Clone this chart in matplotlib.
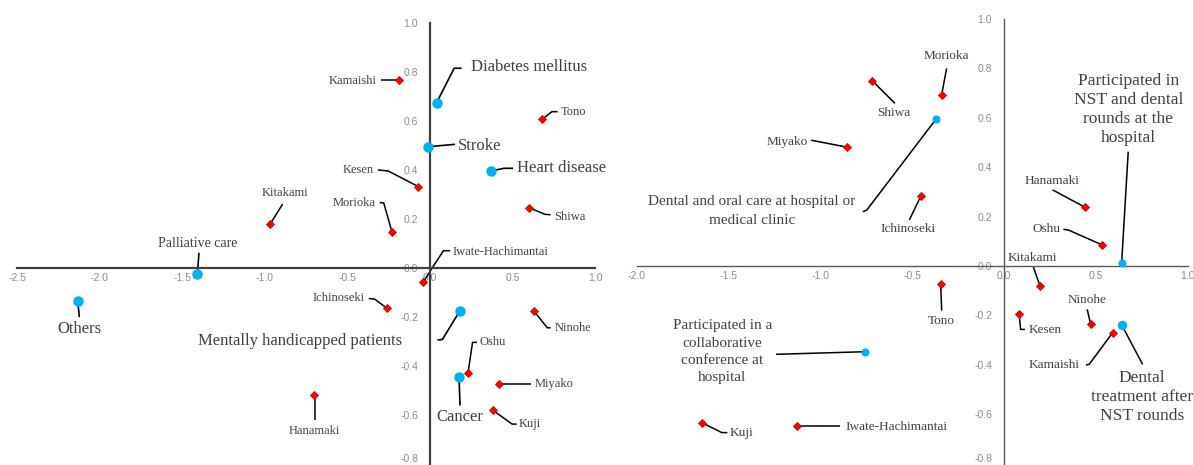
import matplotlib
matplotlib.use("Agg")
import matplotlib.pyplot as plt
import numpy as np

plt.rcParams['axes.unicode_minus'] = False
plt.rcParams['font.family'] = ['Liberation Serif', 'DejaVu Serif']

W, H, DPI = 1193, 465, 100

# ---------------- data: left panel ----------------
L_region_names = ["Kamaishi", "Tono", "Kesen", "Kitakami", "Morioka", "Shiwa",
                  "Iwate-Hachimantai", "Ichinoseki", "Ninohe", "Oshu", "Miyako",
                  "Kuji", "Hanamaki"]
L_region_x = [-0.19, 0.68, -0.07, -0.97, -0.23, 0.60, -0.04, -0.26, 0.63, 0.23,
              0.42, 0.38, -0.70]
L_region_y = [0.767, 0.607, 0.332, 0.178, 0.146, 0.246, -0.056, -0.165, -0.176,
              -0.43, -0.473, -0.58, -0.52]

L_factor_names = ["Diabetes mellitus", "Stroke", "Heart disease", "Palliative care",
                  "Others", "Mentally handicapped patients", "Cancer"]
L_factor_x = [0.04, -0.01, 0.37, -1.41, -2.135, 0.18, 0.176]
L_factor_y = [0.675, 0.495, 0.396, -0.026, -0.133, -0.176, -0.446]

L_xticks = [-2.5, -2.0, -1.5, -1.0, -0.5, 0.0, 0.5, 1.0]
L_yticks = [-0.8, -0.6, -0.4, -0.2, 0.0, 0.2, 0.4, 0.6, 0.8, 1.0]

# ---------------- data: right panel ----------------
R_region_names = ["Shiwa", "Morioka", "Miyako", "Ichinoseki", "Hanamaki", "Oshu",
                  "Kitakami", "Tono", "Kesen", "Ninohe", "Kamaishi", "Kuji",
                  "Iwate-Hachimantai"]
R_region_x = [-0.718, -0.34, -0.854, -0.452, 0.441, 0.536, 0.196, -0.345, 0.083,
              0.472, 0.592, -1.647, -1.126]
R_region_y = [0.750, 0.692, 0.481, 0.285, 0.238, 0.085, -0.08, -0.073, -0.196,
              -0.235, -0.27, -0.634, -0.648]

R_factor_names = ["Dental and oral care at hospital or\nmedical clinic",
                  "Participated in\nNST and dental\nrounds at the\nhospital",
                  "Dental\ntreatment after\nNST rounds",
                  "Participated in a\ncollaborative\nconference at\nhospital"]
R_factor_x = [-0.37, 0.641, 0.641, -0.757]
R_factor_y = [0.595, 0.011, -0.238, -0.347]

R_xticks = [-2.0, -1.5, -1.0, -0.5, 0.0, 0.5, 1.0]
R_yticks = L_yticks

# ---------------- label layout (pixel offsets from the marker, y down) ----------------
# name: (dx, dy, ha, fontsize, leader vertices)
L_layout = {
    "Kamaishi": (-21.6, 0.7, 'right', 9, [(0, 0), (-17.3, 0)]),
    "Tono": (18.4, -7.6, 'left', 9, [(0, 0), (9.7, -7.6), (15.4, -7.6)]),
    "Kesen": (-44.3, -16.7, 'right', 9, [(0, 0), (-30.3, -15.7), (-40.6, -16.7)]),
    "Kitakami": (15, -31, 'center', 9, [(0, 0), (12.7, -20.3)]),
    "Morioka": (-16.6, -29.6, 'right', 9, [(0, 0), (-8.3, -29.3), (-12.3, -29.6)]),
    "Shiwa": (24.7, 9, 'left', 9, [(0, 0), (16, 6.6), (21.5, 7)]),
    "Iwate-Hachimantai": (29.4, -30, 'left', 9, [(0, 0), (20, -31), (26.7, -31)]),
    "Ichinoseki": (-22.4, -10, 'right', 9, [(0, 0), (-12.4, -9.3), (-18.4, -10)]),
    "Ninohe": (20.7, 16.7, 'left', 9, [(0, 0), (13.4, 16.7), (16.7, 16.7)]),
    "Oshu": (11.6, -31, 'left', 9, [(0, 0), (4.6, -31), (9, -31)]),
    "Miyako": (35, 0, 'left', 9, [(0, 0), (31.7, 0)]),
    "Kuji": (26, 14.3, 'left', 9, [(0, 0), (19.4, 14), (24, 14)]),
    "Hanamaki": (0, 35.3, 'center', 9, [(0, 0), (0, 24.3)]),
    "Diabetes mellitus": (34, -35.4, 'left', 12, [(0, 0), (17.6, -34.4), (25, -34.4)]),
    "Stroke": (30, -0.7, 'left', 12, [(0, 0), (26.7, -2.4)]),
    "Heart disease": (25.7, -2.7, 'left', 12, [(0, 0), (13, -2.7), (22, -2.7)]),
    "Palliative care": (0.6, -31, 'center', 10, [(0, 0), (1.6, -21.6)]),
    "Others": (1.6, 28.6, 'center', 12, [(0, 0), (1.6, 16.6)]),
    "Mentally handicapped patients": (-57.3, 29.7, 'right', 12,
                                      [(0, 0), (-17.3, 28.3), (-22.3, 29)]),
    "Cancer": (1, 40, 'center', 12, [(0, 0), (1, 28.4)]),
}

R_layout = {
    "Shiwa": (22, 32.6, 'center', 9.5, [(0, 0), (22.7, 22.6)]),
    "Morioka": (5, -39, 'center', 9.5, [(0, 0), (5, -26.7)]),
    "Miyako": (-39.3, -5.6, 'right', 9.5, [(0, 0), (-36.3, -7)]),
    "Ichinoseki": (-12.7, 33.6, 'center', 9.5, [(0, 0), (-11.7, 24.3)]),
    "Hanamaki": (-32.7, -26.3, 'center', 9.5, [(0, 0), (-32.3, -17.3)]),
    "Oshu": (-41.6, -15.7, 'right', 9.5, [(0, 0), (-34, -15), (-39, -15.7)]),
    "Kitakami": (-7.3, -27.4, 'center', 9.5, [(0, 0), (-6.7, -19)]),
    "Tono": (1, 37, 'center', 9.5, [(0, 0), (1, 26.7)]),
    "Kesen": (9, 15.7, 'left', 9.5, [(0, 0), (1.4, 15), (5.7, 15)]),
    "Ninohe": (-4, -24, 'center', 9.5, [(0, 0), (-3.4, -14.7)]),
    "Kamaishi": (-32.7, 32.3, 'right', 9.5, [(0, 0), (-23.4, 31.6), (-26.7, 32.3)]),
    "Kuji": (28.3, 10.6, 'left', 9.5, [(0, 0), (20, 10), (25.6, 10)]),
    "Iwate-Hachimantai": (47.7, 0.7, 'left', 9.5, [(0, 0), (42.7, 0)]),
    R_factor_names[0]: (-184.3, 92.2, 'center', 11, [(0, 0), (-69.3, 91), (-73.3, 92.7)]),
    R_factor_names[1]: (6.6, -154, 'center', 12.5, [(0, 0), (6.6, -111.6)]),
    R_factor_names[2]: (20.3, 72, 'center', 12.5, [(0, 0), (21, 39.6)]),
    R_factor_names[3]: (-142.7, 0, 'center', 11, [(0, 0), (-89, 2.6)]),
}
R_factor_ms = [4.8, 4.8, 5.8, 4.8]
R_linespacing = {R_factor_names[0]: 1.6, R_factor_names[1]: 1.26,
                 R_factor_names[2]: 1.26, R_factor_names[3]: 1.42}

RED = '#ff0000'
BLUE = '#00b0f0'
TXT = '#404040'
TICK = '#8c8c8c'

fig = plt.figure(figsize=(W / DPI, H / DPI), dpi=DPI)
fig.patch.set_facecolor('white')

axL = fig.add_axes([17.5 / W, 1 / H, 577.5 / W, 441 / H])
axR = fig.add_axes([637 / W, 1.4 / H, 550.5 / W, 444.6 / H])


def setup(ax, xlim, xticks, yticks, lw, color, ypad):
    ax.set_xlim(*xlim)
    ax.set_ylim(-0.8, 1.0)
    ax.set_facecolor('none')
    for s in ['top', 'right']:
        ax.spines[s].set_visible(False)
    ax.spines['left'].set_position(('data', 0))
    ax.spines['bottom'].set_position(('data', 0))
    for s in ['left', 'bottom']:
        ax.spines[s].set_linewidth(lw)
        ax.spines[s].set_color(color)
    ax.set_xticks(xticks)
    ax.set_yticks(yticks)
    ax.set_xticklabels([f"{v:.1f}" for v in xticks])
    ax.set_yticklabels([f"{v:.1f}" for v in yticks])
    ax.tick_params(axis='both', length=0, labelsize=7.5, labelcolor=TICK)
    ax.tick_params(axis='x', pad=3.5)
    ax.tick_params(axis='y', pad=ypad)
    for lab in ax.get_xticklabels() + ax.get_yticklabels():
        lab.set_fontfamily('Liberation Sans')
    # keep the lowest y label inside the picture
    ax.get_yticklabels()[0].set_verticalalignment('bottom')


setup(axL, (-2.5, 1.0), L_xticks, L_yticks, 1.6, '#404040', 8.5)
setup(axR, (-2.0, 1.0), R_xticks, R_yticks, 1.0, '#595959', 8.5)


def offpt(ax, x, y, dx, dy):
    d = ax.transData.transform((x, y))
    return ax.transData.inverted().transform((d[0] + dx, d[1] - dy))


def label(ax, name, x, y, layout, lw, linespacing=1.1):
    dx, dy, ha, fs, verts = layout[name]
    pts = np.array([offpt(ax, x, y, vx, vy) for vx, vy in verts])
    ax.plot(pts[:, 0], pts[:, 1], color='black', lw=lw, zorder=2,
            solid_capstyle='butt', clip_on=False)
    tx, ty = offpt(ax, x, y, dx, dy)
    ax.text(tx, ty, name, ha=ha, va='center', fontsize=fs, color=TXT,
            multialignment='center', linespacing=linespacing, zorder=4,
            clip_on=False)


# left panel
axL.plot(L_region_x, L_region_y, linestyle='none', marker='D', ms=4.3,
         mfc=RED, mec='#d00000', mew=0.6, zorder=3, clip_on=False)
axL.plot(L_factor_x, L_factor_y, linestyle='none', marker='o', ms=6.5,
         mfc=BLUE, mec=BLUE, zorder=3, clip_on=False)
for n, x, y in zip(L_region_names, L_region_x, L_region_y):
    label(axL, n, x, y, L_layout, 1.1)
for n, x, y in zip(L_factor_names, L_factor_x, L_factor_y):
    label(axL, n, x, y, L_layout, 1.2)

# right panel
axR.plot(R_region_x, R_region_y, linestyle='none', marker='D', ms=4.3,
         mfc=RED, mec='#d00000', mew=0.6, zorder=3, clip_on=False)
for x, y, ms in zip(R_factor_x, R_factor_y, R_factor_ms):
    axR.plot([x], [y], linestyle='none', marker='o', ms=ms, mfc=BLUE,
             mec=BLUE, zorder=3, clip_on=False)
for n, x, y in zip(R_region_names, R_region_x, R_region_y):
    label(axR, n, x, y, R_layout, 1.1)
for n, x, y in zip(R_factor_names, R_factor_x, R_factor_y):
    label(axR, n, x, y, R_layout, 1.1, R_linespacing[n])

fig.savefig('out.png', dpi=DPI, facecolor='white')
